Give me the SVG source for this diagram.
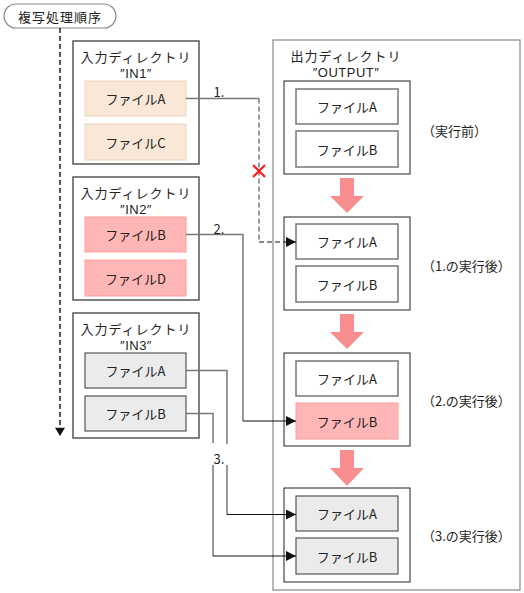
<svg xmlns="http://www.w3.org/2000/svg" width="524" height="593" viewBox="0 0 524 593">
<defs>
<style>
text{font-family:"Noto Sans CJK JP","Noto Sans",sans-serif;font-size:13px;fill:#222;text-anchor:middle;dominant-baseline:central}
.lbl{text-anchor:start}
.ttl{letter-spacing:1px}
.q{font-family:"Liberation Sans","DejaVu Sans",sans-serif;font-size:13px;letter-spacing:0.5px}
.dir{fill:#fff;stroke:#555;stroke-width:1.5}
.out{fill:#fff;stroke:#888;stroke-width:1.2}
.inner{fill:#fff;stroke:#222;stroke-width:1}
.fw{fill:#fff;stroke:#777;stroke-width:1.5}
.fo{fill:#f9e7d8;stroke:#f0d4b8;stroke-width:1}
.fp{fill:#ffb6b6;stroke:#ff9c9c;stroke-width:1}
.fg{fill:#ebebeb;stroke:#555;stroke-width:1.2}
.ln{fill:none;stroke:#777;stroke-width:1.5}
.lb{fill:none;stroke:#111;stroke-width:1}
.dash{stroke-dasharray:5,3}
.big{fill:#f88e8e}
</style>
<marker id="ah" viewBox="0 0 10 10" refX="10" refY="5" markerWidth="10" markerHeight="10" markerUnits="userSpaceOnUse" orient="auto">
<path d="M0,0 L10,5 L0,10 Z" fill="#111"/>
</marker>
<marker id="ahs" viewBox="0 0 10 12" refX="10" refY="6" markerWidth="12" markerHeight="10" markerUnits="userSpaceOnUse" orient="auto">
<path d="M0,0 L10,6 L0,12 Z" fill="#111"/>
</marker>
</defs>

<g id="order">
<rect x="4" y="4" width="112" height="24" rx="12" ry="12" fill="#fff" stroke="#888" stroke-width="1.2"/>
<text class="ttl" x="60" y="16">複写処理順序</text>
<line x1="60" y1="28" x2="60" y2="436" stroke="#222" stroke-width="1.5" stroke-dasharray="5,3" marker-end="url(#ahs)"/>
</g>

<g id="in1">
<rect class="dir" x="73" y="41" width="126" height="123"/>
<text class="ttl" x="136" y="56">入力ディレクトリ</text>
<text class="q" x="136" y="73">″IN1″</text>
<g id="in1-a"><rect class="fo" x="85" y="81" width="101" height="35"/><text x="135.5" y="98.5">ファイルA</text></g>
<g id="in1-c"><rect class="fo" x="85" y="124" width="101" height="36"/><text x="135.5" y="142">ファイルC</text></g>
</g>

<g id="in2">
<rect class="dir" x="73" y="177" width="126" height="123"/>
<text class="ttl" x="136" y="192">入力ディレクトリ</text>
<text class="q" x="136" y="209">″IN2″</text>
<g id="in2-b"><rect class="fp" x="85" y="217" width="101" height="35"/><text x="135.5" y="234.5">ファイルB</text></g>
<g id="in2-d"><rect class="fp" x="85" y="260" width="101" height="36"/><text x="135.5" y="278">ファイルD</text></g>
</g>

<g id="in3">
<rect class="dir" x="73" y="313" width="126" height="125"/>
<text class="ttl" x="136" y="328">入力ディレクトリ</text>
<text class="q" x="136" y="345">″IN3″</text>
<g id="in3-a"><rect class="fg" x="85" y="353" width="101" height="35"/><text x="135.5" y="370.5">ファイルA</text></g>
<g id="in3-b"><rect class="fg" x="85" y="396" width="101" height="35"/><text x="135.5" y="413.5">ファイルB</text></g>
</g>

<g id="output">
<rect class="out" x="273" y="40" width="247" height="550"/>
<text class="ttl" x="346" y="55">出力ディレクトリ</text>
<text class="q" x="346" y="72">″OUTPUT″</text>

<g id="state0">
<rect class="inner" x="284" y="81" width="126" height="93"/>
<rect class="fw" x="296" y="89" width="102" height="35"/><text x="347" y="106.5">ファイルA</text>
<rect class="fw" x="296" y="131" width="102" height="36"/><text x="347" y="149">ファイルB</text>
<text class="lbl" x="422" y="130">（実行前）</text>
</g>

<g id="state1">
<rect class="inner" x="284" y="217" width="126" height="93"/>
<rect class="fw" x="296" y="224" width="102" height="35"/><text x="347" y="241.5">ファイルA</text>
<rect class="fw" x="296" y="266" width="102" height="36"/><text x="347" y="284">ファイルB</text>
<text class="lbl" x="422" y="265">（1.の実行後）</text>
</g>

<g id="state2">
<rect class="inner" x="284" y="353" width="126" height="93"/>
<rect class="fw" x="296" y="361" width="102" height="35"/><text x="347" y="378.5">ファイルA</text>
<rect class="fp" x="296" y="403" width="102" height="36"/><text x="347" y="421">ファイルB</text>
<text class="lbl" x="422" y="400">（2.の実行後）</text>
</g>

<g id="state3">
<rect class="inner" x="284" y="488" width="126" height="94"/>
<rect class="fg" x="296" y="496" width="102" height="35"/><text x="347" y="513.5">ファイルA</text>
<rect class="fg" x="296" y="538" width="102" height="36"/><text x="347" y="556">ファイルB</text>
<text class="lbl" x="422" y="535">（3.の実行後）</text>
</g>

<path class="big" d="M340,178 H354 V196 H364 L347,213 L330,196 H340 Z"/>
<path class="big" d="M340,314 H354 V332 H364 L347,349 L330,332 H340 Z"/>
<path class="big" d="M340,450 H354 V468 H364 L347,486 L330,468 H340 Z"/>
</g>

<g id="connectors">
<path class="ln" d="M186,98.5 H259"/>
<path class="ln dash" d="M259,98.5 V242"/>
<path class="lb dash" d="M259,242 H296" marker-end="url(#ah)"/>
<text x="219" y="91">1.</text>
<g stroke="#ff1a1a" stroke-width="2.2"><line x1="253" y1="165" x2="265" y2="177"/><line x1="265" y1="165" x2="253" y2="177"/></g>

<path class="ln" d="M186,234.5 H243 V421"/>
<path class="lb" d="M243,421 H296" marker-end="url(#ah)"/>
<text x="219" y="228">2.</text>

<path class="ln" d="M186,370.5 H227 V444 M227,465 V514.5"/>
<path class="lb" d="M227,514.5 H296" marker-end="url(#ah)"/>
<path class="ln" d="M186,413.5 H213 V443 M213,465 V556"/>
<path class="lb" d="M213,556 H296" marker-end="url(#ah)"/>
<text x="219" y="458">3.</text>
</g>
</svg>
